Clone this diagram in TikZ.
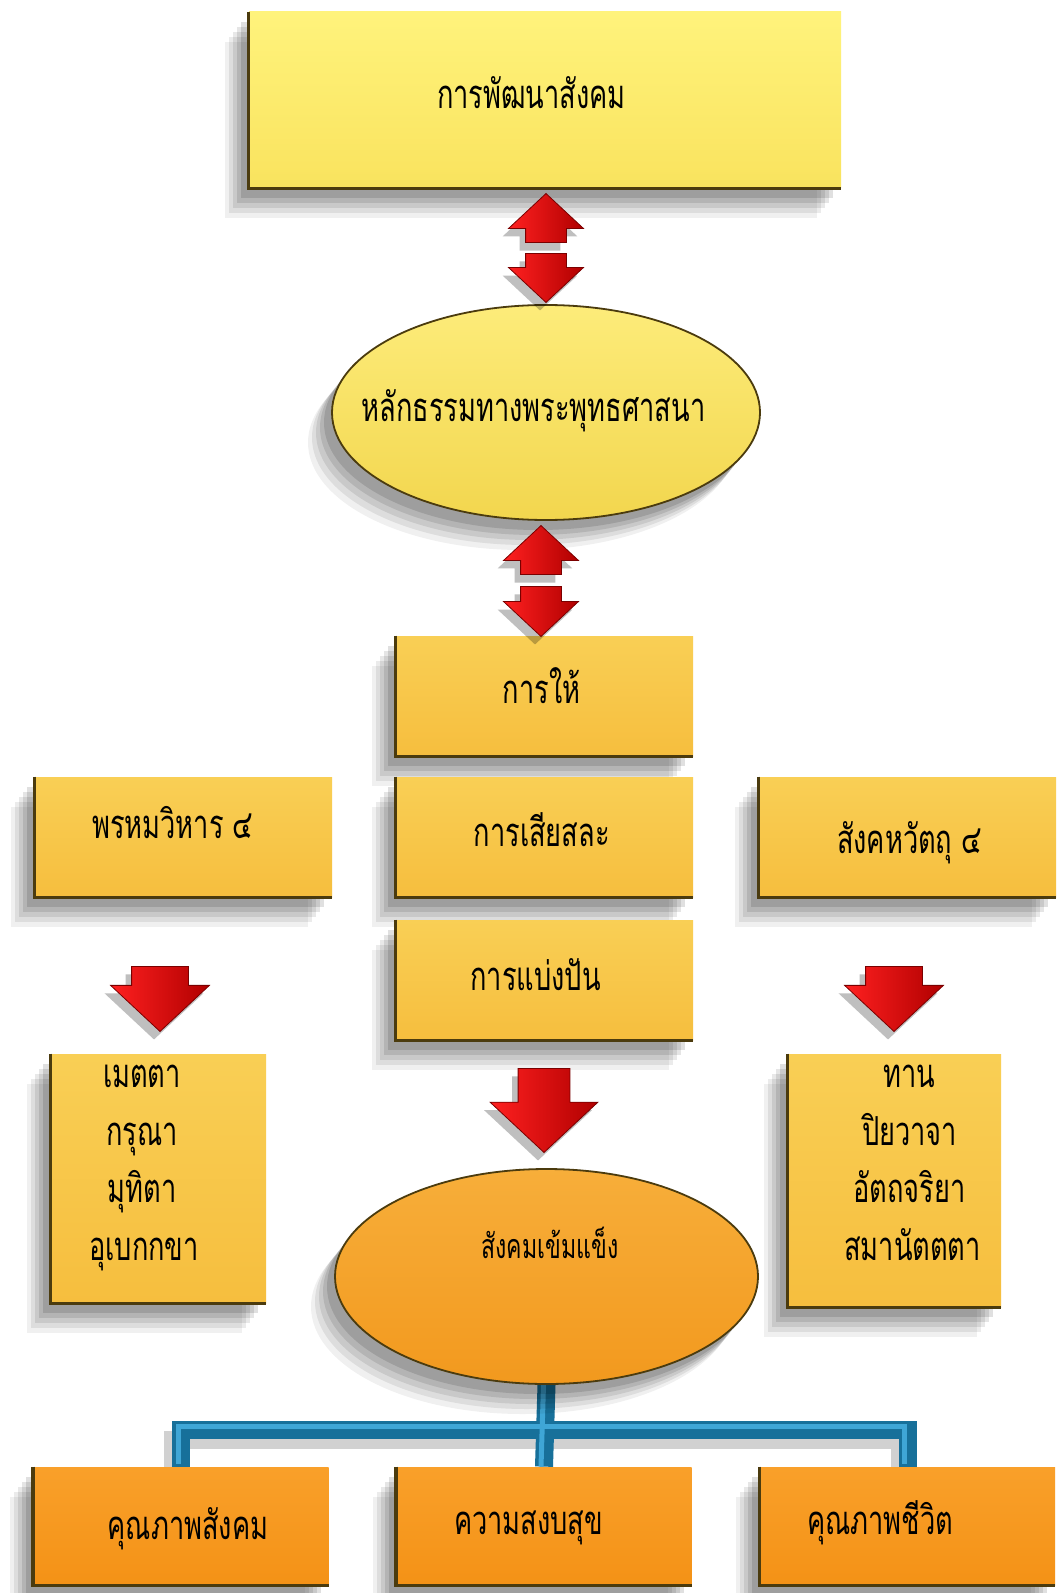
\documentclass[tikz,border=0pt]{standalone}
\usepackage{fontspec}
\newfontfamily\thaifont[Script=Thai,FakeStretch=0.68]{Loma}
\usetikzlibrary{shapes.geometric,shapes.arrows,shadows,calc}
\definecolor{ytop}{HTML}{FFF37C}
\definecolor{ybot}{HTML}{F9E35E}
\definecolor{eatop}{HTML}{FDEC7A}
\definecolor{eabot}{HTML}{F2D64E}
\definecolor{gtop}{HTML}{F9CF55}
\definecolor{gbot}{HTML}{F6BE3E}
\definecolor{ebtop}{HTML}{F7AE3A}
\definecolor{ebbot}{HTML}{F2991E}
\definecolor{otop}{HTML}{F9A02A}
\definecolor{obot}{HTML}{F49216}
\definecolor{bevelc}{HTML}{4B3B0E}
\definecolor{redA}{HTML}{FF2020}
\definecolor{redB}{HTML}{B00000}
\definecolor{redE}{HTML}{7A0000}
\definecolor{pipeA}{HTML}{17709A}
\definecolor{pipeB}{HTML}{3FA6D6}
\pgfdeclarelayer{bg}
\pgfsetlayers{bg,main}
\begin{document}
\begin{tikzpicture}[x=0.5pt,y=-0.5pt,
  softshadow/.style={
    drop shadow={shadow xshift=-12pt,shadow yshift=-15pt,opacity=.06,fill=black},
    drop shadow={shadow xshift=-10pt,shadow yshift=-12.5pt,opacity=.08,fill=black},
    drop shadow={shadow xshift=-8pt,shadow yshift=-10pt,opacity=.09,fill=black},
    drop shadow={shadow xshift=-6pt,shadow yshift=-7.5pt,opacity=.1,fill=black},
    drop shadow={shadow xshift=-4pt,shadow yshift=-5pt,opacity=.12,fill=black}},
  boxbase/.style={rectangle,inner sep=0pt,softshadow},
  ybox/.style={boxbase,top color=ytop,bottom color=ybot},
  gbox/.style={boxbase,top color=gtop,bottom color=gbot,minimum width=148.5pt,minimum height=60pt},
  obox/.style={boxbase,top color=otop,bottom color=obot,minimum width=147.5pt,minimum height=59pt},
  ellbase/.style={ellipse,inner sep=0pt,draw=bevelc,line width=0.9pt,softshadow},
  bevel/.style={draw=bevelc,line width=1.8pt,line join=miter},
  redarrow/.style={single arrow,single arrow tip angle=94,inner ysep=0pt,anchor=tip,
    left color=redA,right color=redB,draw=redE,line width=0.4pt,
    drop shadow={shadow xshift=-3pt,shadow yshift=-4pt,opacity=.25,fill=black}},
  txt/.style={font=\thaifont\fontsize{20}{24}\selectfont,inner sep=0pt,anchor=base},
  pipe/.style={draw=pipeA,line width=9pt,line join=miter},
  pipehl/.style={draw=pipeB,line width=2.5pt,line join=miter},
]
\begin{pgfonlayer}{bg}
\fill[white] (0,0) rectangle (1057,1593);
\end{pgfonlayer}
\useasboundingbox (0,0) rectangle (1057,1593);

% shapes
\node[ybox,minimum width=296pt,minimum height=88pt] (top) at (545,100) {};
\node[ellbase,top color=eatop,bottom color=eabot,minimum width=214pt,minimum height=107.5pt] (ell1) at (546,412.5) {};
\node[gbox] (give) at (544.5,696) {};
\node[gbox] (sacr) at (544.5,837) {};
\node[gbox] (share) at (544.5,980) {};
\node[gbox] (brahma) at (183.5,837) {};
\node[gbox] (sangaha) at (907.5,837) {};
\node[gbox,minimum width=107.5pt,minimum height=124.5pt] (llist) at (158.5,1178.5) {};
\node[gbox,minimum width=106.5pt,minimum height=126.5pt] (rlist) at (894.5,1180.5) {};
\node[ellbase,top color=ebtop,bottom color=ebbot,minimum width=211.5pt,minimum height=107.5pt] (ell2) at (546.5,1276.5) {};
\node[obox] (q1) at (181,1526) {};
\node[obox] (q2) at (544,1526) {};
\node[obox] (q3) at (907.5,1526) {};

\foreach \n in {top,give,sacr,share,brahma,sangaha,llist,rlist,q1,q2,q3}
  \draw[bevel] (\n.north west) -- (\n.south west) -- (\n.south east);

% block arrows (placed by their tips)
\node[redarrow,shape border rotate=90,minimum height=24.5pt,inner xsep=10pt,single arrow head extend=8.5pt] (a1u) at (546,193) {};
\node[redarrow,shape border rotate=270,minimum height=24.5pt,inner xsep=10pt,single arrow head extend=8.5pt] (a1d) at (546,303) {};
\node[redarrow,shape border rotate=90,minimum height=24.5pt,inner xsep=10pt,single arrow head extend=8.5pt] (a2u) at (541,525) {};
\node[redarrow,shape border rotate=270,minimum height=25pt,inner xsep=10pt,single arrow head extend=8.5pt] (a2d) at (541,637) {};
\node[redarrow,shape border rotate=270,minimum height=32.5pt,inner xsep=14pt,single arrow head extend=10.5pt] (al) at (160,1032) {};
\node[redarrow,shape border rotate=270,minimum height=32.5pt,inner xsep=14pt,single arrow head extend=10.5pt] (ar) at (894,1032) {};
\node[redarrow,shape border rotate=270,minimum height=42pt,inner xsep=12.75pt,single arrow head extend=14pt] (am) at (544,1153) {};

% blue connector
\coordinate (j) at ($(ell2.south)!0.55!(q2.north)$);
\begin{pgfonlayer}{bg}
\draw[pipe,draw=black,opacity=.18,transform canvas={xshift=-4pt,yshift=-5pt}] (q1.north) |- (j) -| (q3.north);
\draw[pipe] (q1.north) |- (j) -| (q3.north);
\draw[pipe] (ell2.south) -- (q2.north);
\draw[pipehl,transform canvas={xshift=-1.5pt,yshift=1.5pt}] (q1.north) |- (j) -| (q3.north);
\draw[pipehl,transform canvas={xshift=-1.5pt}] (ell2.south) -- (q2.north);
\end{pgfonlayer}

% texts
\node[txt] (t-top) at (531.5,109) {การพัฒนาสังคม};
\node[txt] (t-ell1) at (533.5,421.5) {หลักธรรมทางพระพุทธศาสนา};
\node[txt] (t-give) at (541.7,703) {การให้};
\node[txt] (t-sacr) at (541.7,846) {การเสียสละ};
\node[txt] (t-share) at (535.6,990.5) {การแบ่งปัน};
\node[txt] (t-brahma) at (172.8,838) {พรหมวิหาร ๔};
\node[txt] (t-sang) at (909.6,853.5) {สังคหวัตถุ ๔};
\node[txt] (l1) at (142,1087) {เมตตา};
\node[txt] (l2) at (142,1145) {กรุณา};
\node[txt] (l3) at (142,1202) {มุทิตา};
\node[txt] (l4) at (144,1260) {อุเบกกขา};
\node[txt] (r1) at (909.6,1087) {ทาน};
\node[txt] (r2) at (909.6,1145) {ปิยวาจา};
\node[txt] (r3) at (909.6,1202) {อัตถจริยา};
\node[txt] (r4) at (912.6,1260) {สมานัตตตา};
\node[txt,font=\thaifont\fontsize{17}{20}\selectfont] (t-ell2) at (549.8,1258) {สังคมเข้มแข็ง};
\node[txt] (t-q1) at (188,1539.5) {คุณภาพสังคม};
\node[txt] (t-q2) at (528.5,1534.5) {ความสงบสุข};
\node[txt] (t-q3) at (880,1534.5) {คุณภาพชีวิต};
\end{tikzpicture}
\end{document}
